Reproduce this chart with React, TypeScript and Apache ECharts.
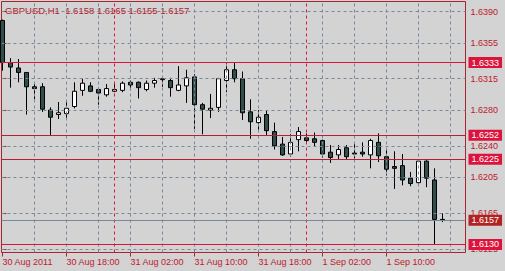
import React, { useEffect, useRef } from 'react';
import * as echarts from 'echarts';

const symbol = 'GBPUSD';
const timeframe = 'H1';

// Hourly bars, 30 Aug 2011 10:00 .. 1 Sep 2011 17:00
const opens = [
  1.6380, 1.6333, 1.6327, 1.6322, 1.6306, 1.6306, 1.6280, 1.6275, 1.6276, 1.6284,
  1.6302, 1.6307, 1.6303, 1.6297, 1.6301, 1.6302, 1.6311, 1.6311, 1.6303, 1.6310,
  1.6315, 1.6313, 1.6302, 1.6307, 1.6317, 1.6286, 1.6280, 1.6283, 1.6313, 1.6325,
  1.6315, 1.6278, 1.6266, 1.6275, 1.6256, 1.6242, 1.6231, 1.6247, 1.6249, 1.6248,
  1.6246, 1.6233, 1.6230, 1.6238, 1.6232, 1.6233, 1.6230, 1.6244, 1.6228, 1.6217,
  1.6218, 1.6204, 1.6199, 1.6223, 1.6202, 1.6158,
];
const highs = [
  1.6381, 1.6338, 1.6337, 1.6322, 1.6310, 1.6310, 1.6283, 1.6289, 1.6289, 1.6311,
  1.6315, 1.6311, 1.6305, 1.6309, 1.6311, 1.6312, 1.6313, 1.6312, 1.6313, 1.6316,
  1.6315, 1.6316, 1.6329, 1.6325, 1.6320, 1.6288, 1.6298, 1.6316, 1.6333, 1.6333,
  1.6323, 1.6292, 1.6280, 1.6280, 1.6266, 1.6250, 1.6253, 1.6261, 1.6254, 1.6255,
  1.6247, 1.6241, 1.6241, 1.6241, 1.6244, 1.6244, 1.6248, 1.6254, 1.6237, 1.6234,
  1.6231, 1.6211, 1.6224, 1.6224, 1.6215, 1.6165,
];
const lows = [
  1.6324, 1.6305, 1.6311, 1.6275, 1.6292, 1.6278, 1.6252, 1.6270, 1.6269, 1.6282,
  1.6296, 1.6300, 1.6286, 1.6295, 1.6300, 1.6300, 1.6302, 1.6293, 1.6301, 1.6305,
  1.6306, 1.6295, 1.6301, 1.6288, 1.6259, 1.6253, 1.6271, 1.6278, 1.6300, 1.6311,
  1.6269, 1.6248, 1.6258, 1.6252, 1.6236, 1.6229, 1.6228, 1.6234, 1.6243, 1.6239,
  1.6227, 1.6221, 1.6225, 1.6225, 1.6226, 1.6228, 1.6215, 1.6222, 1.6207, 1.6192,
  1.6196, 1.6195, 1.6198, 1.6194, 1.6130, 1.6155,
];
const closes = [
  1.6333, 1.6328, 1.6322, 1.6306, 1.6304, 1.6281, 1.6272, 1.6277, 1.6282, 1.6301,
  1.6310, 1.6301, 1.6299, 1.6304, 1.6303, 1.6310, 1.6308, 1.6305, 1.6310, 1.6313,
  1.6314, 1.6305, 1.6308, 1.6316, 1.6286, 1.6281, 1.6282, 1.6315, 1.6325, 1.6315,
  1.6277, 1.6267, 1.6272, 1.6257, 1.6240, 1.6230, 1.6244, 1.6256, 1.6246, 1.6244,
  1.6231, 1.6227, 1.6236, 1.6228, 1.6231, 1.6231, 1.6246, 1.6229, 1.6214, 1.6215,
  1.6202, 1.6198, 1.6223, 1.6204, 1.6158, 1.6157,
];

const timeTickIndex = [0, 8, 16, 24, 32, 40, 48];
const timeTickLabels = [
  '30 Aug 2011', '30 Aug 18:00', '31 Aug 02:00', '31 Aug 10:00',
  '31 Aug 18:00', '1 Sep 02:00', '1 Sep 10:00',
];
const priceTicks = [1.639, 1.6355, 1.6315, 1.628, 1.624, 1.6205, 1.6165, 1.6125];
const gridBarIndex = [4, 8, 12, 16, 20, 24, 28, 32, 36, 40, 44, 48, 52, 56];
const daySeparatorIndex = [14, 38];
const levelLines = [1.6333, 1.6252, 1.6225, 1.613];
const bidPrice = 1.6157;

const BG = '#d3d3d3';
const FRAME = '#a8242e';
const TEXT = '#c0182c';
const GRID = '#778899';
const CRIMSON = '#dc143c';
const LEVEL_DARK = '#b81e36';
const FONT = '"Liberation Sans", Arial, sans-serif';

export default function App() {
  const ref = useRef<HTMLDivElement>(null);

  useEffect(() => {
    document.body.style.margin = '0';
    if (!ref.current) return;
    const chart = echarts.init(ref.current, undefined, { renderer: 'svg' });

    const n = opens.length;
    const candles = opens.map((o, i) => [i, o, closes[i], lows[i], highs[i]]);
    const titleText = `${symbol},${timeframe}  ${opens[n - 1].toFixed(4)} ${highs[n - 1].toFixed(4)} ${lows[n - 1].toFixed(4)} ${closes[n - 1].toFixed(4)}`;

    const levelColors = [CRIMSON, LEVEL_DARK, LEVEL_DARK, CRIMSON];

    const boxLabel = (text: string, bg: string) => ({
      show: true,
      position: 'end',
      distance: 3,
      formatter: text,
      color: '#ffffff',
      backgroundColor: bg,
      padding: [1, 3, 1, 3],
      lineHeight: 9,
      fontSize: 9,
      fontFamily: FONT,
    });

    chart.setOption({
      animation: false,
      backgroundColor: BG,
      grid: {
        left: 1.5,
        right: 39.5,
        top: 1.5,
        bottom: 18.5,
        show: true,
        borderColor: FRAME,
        borderWidth: 1,
        backgroundColor: 'transparent',
        containLabel: false,
        outerBoundsMode: 'none',
      },
      xAxis: {
        type: 'value',
        min: -0.125,
        max: 57.875,
        splitLine: { show: false },
        axisLine: { show: false },
        axisTick: {
          show: true,
          customValues: timeTickIndex,
          length: 4,
          lineStyle: { color: FRAME },
        },
        axisLabel: {
          customValues: timeTickIndex,
          formatter: (v: number) => timeTickLabels[timeTickIndex.indexOf(Math.round(v))] ?? '',
          align: 'left',
          margin: 5,
          color: TEXT,
          fontSize: 9,
          fontFamily: FONT,
        },
      },
      yAxis: {
        type: 'value',
        position: 'right',
        min: 1.612107,
        max: 1.6401159,
        scale: true,
        splitLine: { show: false },
        axisLine: { show: false },
        axisTick: {
          show: true,
          customValues: priceTicks,
          length: 4,
          lineStyle: { color: FRAME },
        },
        axisLabel: {
          customValues: priceTicks,
          formatter: (v: number) => v.toFixed(4),
          margin: 5,
          color: TEXT,
          fontSize: 9,
          fontFamily: FONT,
          hideOverlap: false,
        },
      },
      graphic: [
        {
          type: 'text',
          x: 5,
          y: 10,
          style: {
            text: titleText,
            fill: TEXT,
            fontSize: 9.5,
            fontFamily: FONT,
            verticalAlign: 'middle',
            align: 'left',
          },
        },
      ],
      series: [
        {
          type: 'line',
          data: [],
          z: 1,
          silent: true,
          markLine: {
            silent: true,
            precision: 6,
            symbol: ['none', 'none'],
            label: { show: false },
            lineStyle: { color: GRID, type: [3, 3], width: 1 },
            data: [
              ...gridBarIndex.map((v) => ({ xAxis: v })),
              ...priceTicks.map((v) => ({ yAxis: v })),
              ...daySeparatorIndex.map((v) => ({ xAxis: v, lineStyle: { color: CRIMSON, type: [3, 3], width: 1 } })),
            ],
          },
        },
        {
          type: 'line',
          data: [],
          z: 2,
          silent: true,
          markLine: {
            silent: true,
            precision: 6,
            symbol: ['none', 'none'],
            data: [
              ...levelLines.map((v, k) => ({
                yAxis: v,
                lineStyle: { color: levelColors[k], type: 'solid', width: 1 },
                label: boxLabel(v.toFixed(4), CRIMSON),
              })),
              {
                yAxis: bidPrice,
                lineStyle: { color: GRID, type: 'solid', width: 1 },
                label: boxLabel(bidPrice.toFixed(4), '#b22222'),
              },
            ],
          },
        },
        {
          type: 'candlestick',
          z: 3,
          barWidth: 4,
          clip: true,
          encode: { x: 0, y: [1, 2, 3, 4] },
          data: candles,
          itemStyle: {
            color: '#ffffff',
            color0: '#2f4f4f',
            borderColor: '#000000',
            borderColor0: '#000000',
            borderWidth: 1,
          },
        },
      ],
    });

    return () => chart.dispose();
  }, []);

  return <div ref={ref} style={{ width: 505, height: 271, background: BG }} />;
}
